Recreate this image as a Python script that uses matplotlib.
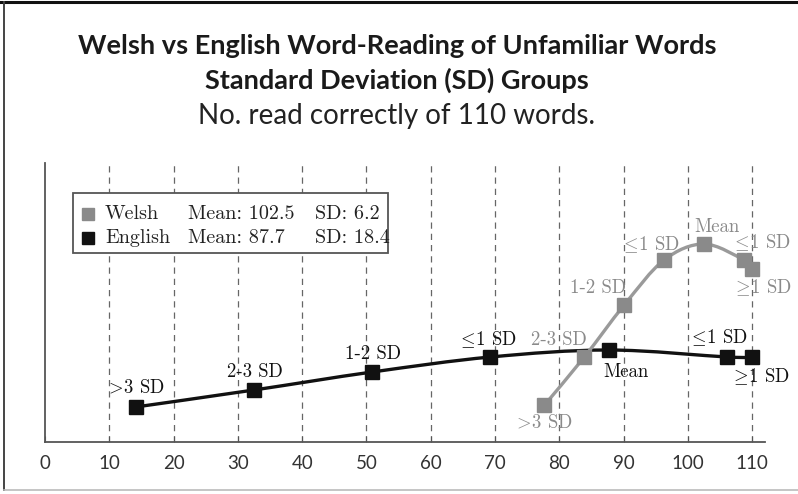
import numpy as np
import matplotlib
matplotlib.use('agg')  # no display
import matplotlib.pyplot as plt
from matplotlib.path import Path
from matplotlib.patches import PathPatch, Rectangle
from matplotlib.lines import Line2D

# data (x = words read correctly, y = relative group height)
sd_labels = [r'$\!>\!$3 SD', '2-3 SD', '1-2 SD', r'$\!\leq\!$1 SD', 'Mean',
             r'$\!\leq\!$1 SD', r'$\!\geq\!$1 SD']
welsh_x = [77.7, 83.9, 90.1, 96.3, 102.5, 108.7, 110.0]
welsh_y = [37, 85, 137, 182, 198, 182, 173]
english_x = [14.1, 32.5, 50.9, 69.3, 87.7, 106.1, 110.0]
english_y = [35, 52, 70, 85, 92, 85, 85]
welsh_stats = ['Welsh', 'Mean: 102.5', 'SD: 6.2']
english_stats = ['English', 'Mean: 87.7', 'SD: 18.4']
x_ticks = [0, 10, 20, 30, 40, 50, 60, 70, 80, 90, 100, 110]

# label offsets in pixels (label centre relative to marker)
welsh_offsets = [(0, -17), (-25, 17), (-26, 17), (-13, 15), (13, 17), (19, 17), (11, -19)]
english_offsets = [(1, 20), (1, 18), (1, 18), (-2, 17), (17, -22), (-8, 19), (9, -20)]

plt.rcParams['mathtext.fontset'] = 'cm'
W, H = 798, 494
fig = plt.figure(figsize=(W / 100, H / 100), dpi=100)
fig.patch.set_facecolor('white')


def fx(px):
    return px / W


def fy(py):
    return 1 - py / H


ax = fig.add_axes([fx(45), fy(442), 720 / W, 279 / H])
ax.set_xlim(0, 112)
ax.set_ylim(0, 279)
ax.set_facecolor('none')
for s in ['top', 'right']:
    ax.spines[s].set_visible(False)
for s in ['left', 'bottom']:
    ax.spines[s].set_color('#555555')
    ax.spines[s].set_linewidth(1.3)
ax.set_yticks([])
ax.set_xticks(x_ticks)
ax.tick_params(axis='x', direction='in', length=4, color='#555555', pad=9)
for lbl in ax.get_xticklabels():
    lbl.set_fontfamily('Lato')
    lbl.set_fontsize(13.5)
    lbl.set_color('#333333')
for t in x_ticks[1:]:
    ax.axvline(t, color='#666666', lw=0.9, ls=(0, (5, 4)), zorder=1)


def smooth_path(xs, ys):
    # catmull-rom through the data points, drawn as bezier segments
    pts = np.column_stack([xs, ys]).astype(float)
    verts = [pts[0]]
    codes = [Path.MOVETO]
    n = len(pts)
    for i in range(n - 1):
        p0 = pts[i - 1] if i > 0 else pts[i]
        p1 = pts[i]
        p2 = pts[i + 1]
        p3 = pts[i + 2] if i + 2 < n else pts[i + 1]
        c1 = p1 + (p2 - p0) / 6.0
        c2 = p2 - (p3 - p1) / 6.0
        verts += [c1, c2, p2]
        codes += [Path.CURVE4] * 3
    return Path(verts, codes)


series = [
    (english_x, english_y, '#111111', '#111111', '#111111', english_offsets),
    (welsh_x, welsh_y, '#9a9a9a', '#8a8a8a', '#8a8a8a', welsh_offsets),
]
for xs, ys, lc, mc, tc, offs in series:
    ax.add_patch(PathPatch(smooth_path(xs, ys), fill=False, ec=lc, lw=2.4,
                           zorder=3, capstyle='round'))
    ax.plot(xs, ys, ls='none', marker='s', ms=10.5, mfc=mc, mec=mc, zorder=4,
            clip_on=False)
    for x, y, lab, (dx, dy) in zip(xs, ys, sd_labels, offs):
        ax.annotate(lab, (x, y), xytext=(dx, dy), textcoords='offset pixels',
                    ha='center', va='center', fontsize=13.5, family='cmr10',
                    color=tc, zorder=5)

# legend box drawn as a small table
fig.patches.append(Rectangle((fx(73), fy(253)), (388 - 73) / W, 60 / H,
                             transform=fig.transFigure, fc='white',
                             ec='#555555', lw=1.3, zorder=6))
for row, (stats, col) in enumerate([(welsh_stats, '#8a8a8a'), (english_stats, '#111111')]):
    yy = fy(214 + row * 24)
    fig.add_artist(Line2D([fx(88)], [yy], marker='s', ms=9, mfc=col, mec=col,
                          ls='none', transform=fig.transFigure, zorder=7))
    for txt, xpx in zip(stats, [105, 188, 315]):
        fig.text(fx(xpx), yy, txt, ha='left', va='center', family='cmr10',
                 fontsize=14.5, color='#222222', zorder=7)

# titles
fig.text(fx(397), fy(46), 'Welsh vs English Word-Reading of Unfamiliar Words',
         ha='center', va='center', family='Lato', weight='bold', fontsize=19.5,
         color='#1a1a1a')
fig.text(fx(397), fy(80), 'Standard Deviation (SD) Groups', ha='center',
         va='center', family='Lato', weight='bold', fontsize=19.5, color='#1a1a1a')
fig.text(fx(397), fy(116), 'No. read correctly of 110 words.', ha='center',
         va='center', family='Lato', fontsize=20, color='#222222')

# outer frame of the picture
fig.add_artist(Line2D([0, 1], [fy(2), fy(2)], color='#111111', lw=2.2,
                      transform=fig.transFigure))
fig.add_artist(Line2D([fx(4), fx(4)], [fy(2), fy(490)], color='#444444', lw=1.4,
                      transform=fig.transFigure))
fig.add_artist(Line2D([fx(4), 1], [fy(490), fy(490)], color='#bbbbbb', lw=1.2,
                      transform=fig.transFigure))

fig.savefig('out.png', dpi=100, facecolor='white')
